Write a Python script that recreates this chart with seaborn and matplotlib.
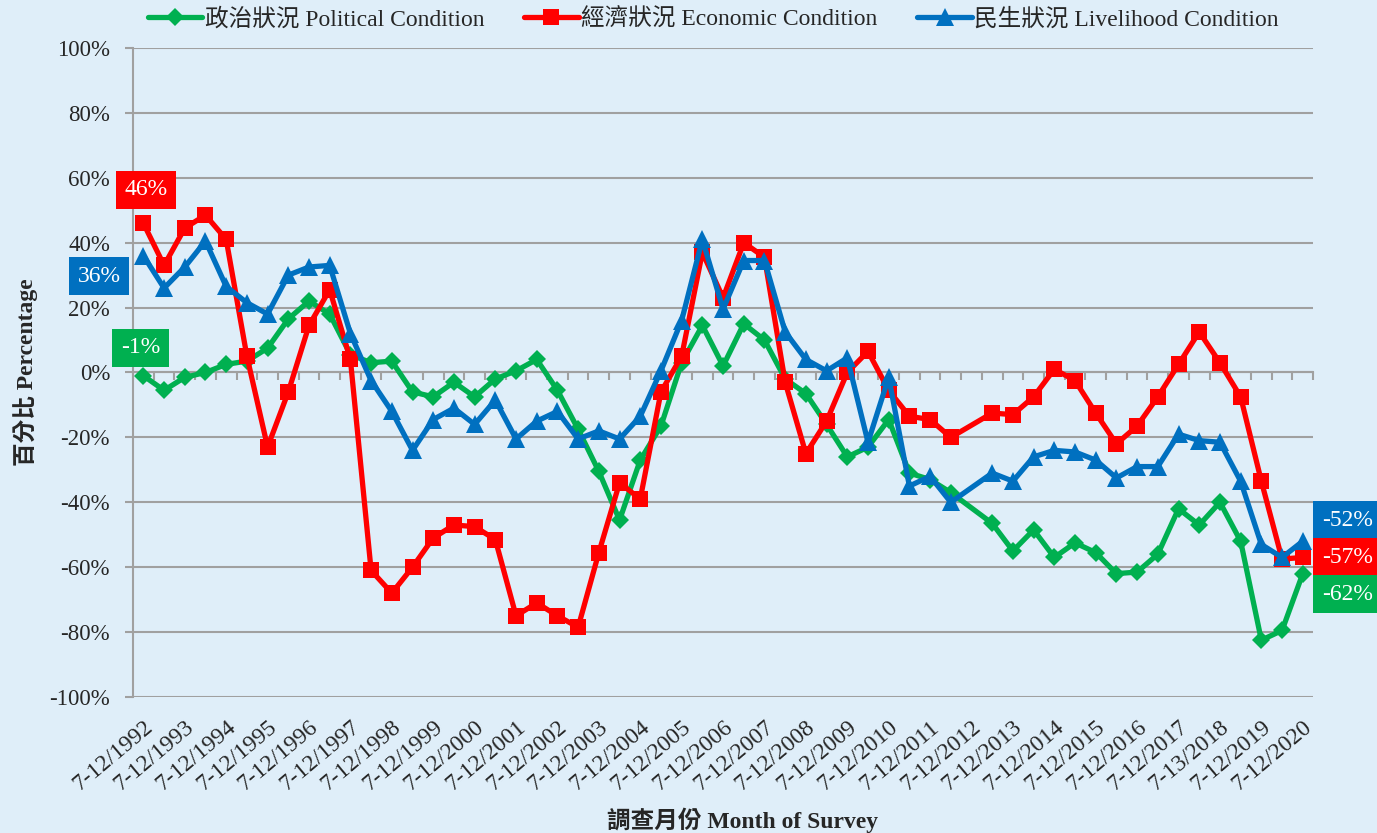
import numpy as np
import pandas as pd
import matplotlib
matplotlib.use("Agg")
import matplotlib.pyplot as plt
import seaborn as sns

# survey values (%), one per half-year survey, NaN = no survey
political = [-1, -5.5, -1.5, 0, 2.5, 3.5, 7.5, 16.5, 22, 18,
             5.5, 3, 3.5, -6, -7.5, -3, -7.5, -2, 0.5, 4,
             -5.5, -17.5, -30.5, -45.5, -27, -16.5, 3, 14.5, 2, 15,
             10, -2, -6.5, -16, -26, -23, -14.5, -31, -33, -37,
             np.nan, -46.5, -55, -48.5, -57, -52.5, -55.5, -62, -61.5, -56,
             -42, -47, -40, -52, -82.5, -79.5, -62]
economic = [46, 33, 44.5, 48.5, 41, 5, -23, -6, 14.5, 25.5,
            4, -61, -68, -60, -51, -47, -47.5, -51.5, -75, -71,
            -75, -78.5, -55.5, -34, -39, -6, 5, 37, 23, 40,
            35.5, -3, -25, -15, 0, 6.5, -5.5, -13.5, -14.5, -20,
            np.nan, -12.5, -13, -7.5, 1, -2.5, -12.5, -22, -16.5, -7.5,
            2.5, 12.5, 3, -7.5, -33.5, -57.5, -57]
livelihood = [36, 26, 32.5, 40.5, 26.5, 21.5, 18, 30, 32.5, 33,
              12, -2.5, -12, -24, -14.5, -11, -16, -8.5, -20.5, -15,
              -12, -20.5, -18, -20.5, -13.5, 0.5, 16, 41, 19.5, 34.5,
              34.5, 12.5, 4, 0.5, 4.5, -21.5, -1.5, -35, -32, -40,
              np.nan, -31, -33.5, -26, -24, -24.5, -27, -32.5, -29, -29,
              -19, -21, -21.5, -33.5, -53, -57, -52]

year_labels = ["7-12/1992", "7-12/1993", "7-12/1994", "7-12/1995", "7-12/1996",
               "7-12/1997", "7-12/1998", "7-12/1999", "7-12/2000", "7-12/2001",
               "7-12/2002", "7-12/2003", "7-12/2004", "7-12/2005", "7-12/2006",
               "7-12/2007", "7-12/2008", "7-12/2009", "7-12/2010", "7-12/2011",
               "7-12/2012", "7-12/2013", "7-12/2014", "7-12/2015", "7-12/2016",
               "7-12/2017", "7-13/2018", "7-12/2019", "7-12/2020"]

GREEN = "#00B050"
RED = "#FF0000"
BLUE = "#0070C0"
BG = "#DFEEF9"
GRID = "#A0A0A0"

sns.set_theme(style="white")
plt.rcParams['font.family'] = ['Liberation Serif', 'Noto Sans CJK TC']

fig = plt.figure(figsize=(13.77, 8.33), dpi=100, facecolor=BG)
ax = fig.add_axes([0.0966, 0.1633, 0.857, 0.7791])
ax.set_facecolor(BG)

n = len(political)
df = pd.DataFrame({"idx": np.arange(n), "political": political,
                   "economic": economic, "livelihood": livelihood})

series = [("political", "政治狀況 Political Condition", GREEN, "D", 9.5),
          ("economic", "經濟狀況 Economic Condition", RED, "s", 12),
          ("livelihood", "民生狀況 Livelihood Condition", BLUE, "^", 12.5)]

for col, label, color, marker, ms in series:
    d = df[["idx", col]].dropna()
    sns.lineplot(data=d, x="idx", y=col, ax=ax, color=color, marker=marker,
                 markersize=ms, markeredgecolor=color, markeredgewidth=0,
                 linewidth=3.8, label=label, estimator=None, sort=False)

# first / last value labels
def tag(i, v, color, dx, dy):
    ax.annotate(f"{v:.0f}%", xy=(i, v), xytext=(dx, dy), textcoords="offset points",
                ha="center", va="center", color="white", fontsize=17,
                bbox=dict(boxstyle="square,pad=0.36", fc=color, ec="none"),
                annotation_clip=False)

tag(0, economic[0], RED, 2, 24)
tag(0, livelihood[0], BLUE, -32, -15)
tag(0, political[0], GREEN, -2, 20)
tag(n - 1, livelihood[-1], BLUE, 32, 15)
tag(n - 1, economic[-1], RED, 32, 0)
tag(n - 1, political[-1], GREEN, 32, -15)

ax.set_ylim(-100, 100)
ax.set_yticks(np.arange(-100, 101, 20))
ax.set_yticklabels([f"{v}%" for v in range(-100, 101, 20)], fontsize=16.5)
ax.yaxis.grid(True, color=GRID, linewidth=1.5)
ax.xaxis.grid(False)
ax.set_axisbelow(True)

ax.set_xlim(-0.5, n - 0.5)
ax.set_xticks(np.arange(0, n, 2))
ax.set_xticklabels(year_labels, rotation=40, ha="right", rotation_mode="anchor", fontsize=17)
ax.tick_params(axis="x", length=0, pad=14)
ax.tick_params(axis="y", length=6, width=1.5, color=GRID, left=True, pad=10.5)

for s in ["top", "right", "bottom"]:
    ax.spines[s].set_visible(False)
ax.spines["left"].set_color(GRID)
ax.spines["left"].set_linewidth(1.5)

# category axis drawn through 0%
sec = ax.secondary_xaxis(0.5)
sec.set_xticks(np.arange(-0.5, n, 1))
sec.tick_params(direction="in", length=6, width=1.5, color=GRID, labeltop=False, labelbottom=False)
for s in ["top", "bottom"]:
    sec.spines[s].set_color(GRID)
    sec.spines[s].set_linewidth(1.5)

ax.set_xlabel("")
ax.set_ylabel("百分比 Percentage", fontsize=17, fontweight="bold", labelpad=8)
fig.text(0.5396, 0.0156, "調查月份 Month of Survey", ha="center", va="center",
         fontsize=17, fontweight="bold")

ax.legend(loc="center", bbox_to_anchor=(0.518, 0.977), bbox_transform=fig.transFigure,
          ncol=3, frameon=False, fontsize=17, handlelength=2.3, handletextpad=0.1,
          columnspacing=1.7)

fig.savefig("out.png", dpi=100, facecolor=BG)
